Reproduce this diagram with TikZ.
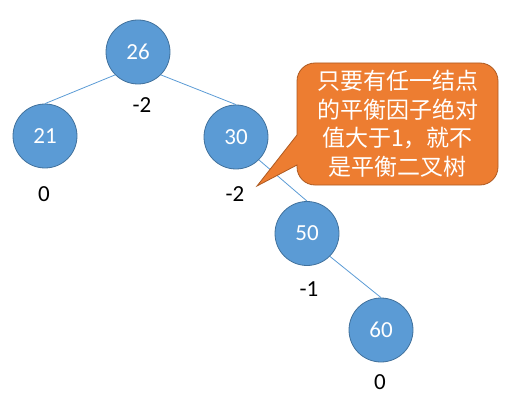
\documentclass[tikz,border=0pt]{standalone}
\usepackage{fontspec}
\setmainfont{Carlito}
\newfontfamily\cjk{Noto Sans CJK SC}
\usepackage{tikz}
\usetikzlibrary{positioning, calc}
\definecolor{nodeblue}{RGB}{91,155,213}
\definecolor{nodeedge}{RGB}{65,113,156}
\definecolor{calloutorange}{RGB}{237,125,49}
\definecolor{calloutedge}{RGB}{174,90,33}

\begin{document}
\begin{tikzpicture}[
  x=1pt, y=1pt,
  tnode/.style={circle, draw=nodeedge, fill=nodeblue, line width=0.8pt,
    minimum size=64pt, inner sep=0pt, text=white,
    font=\fontsize{23}{27}\selectfont},
  bal/.style={font=\fontsize{23}{27}\selectfont, text=black},
  link/.style={draw=nodeblue, line width=0.8pt},
  callout/.style={fill=calloutorange, draw=calloutedge, line width=0.8pt}
]
  \useasboundingbox (0,0) rectangle (514,405);

  % tree nodes
  \node[tnode] (n26) at (138,353) {26};
  \node[tnode] (n21) at (45,269)  {21};
  \node[tnode] (n30) at (236,268) {30};
  \node[tnode] (n50) at (307,171.5) {50};
  \node[tnode] (n60) at (381,75)  {60};

  \draw[link] (n26.south west) -- (n21.north);
  \draw[link] (n26.south east) -- (n30.north);
  \draw[link] (n30.south east) -- (n50.north);
  \draw[link] (n50.south east) -- (n60.north);

  % balance factors
  \node[bal] (b26) at (142,300) {-2};
  \node[bal] (b21) at (44,211)  {0};
  \node[bal] (b30) at (235,211) {-2};
  \node[bal] (b50) at (309,116) {-1};
  \node[bal] (b60) at (380,23)  {0};

  % callout
  \draw[callout] (297,270) -- (297,324)
    arc[start angle=180, end angle=90, radius=18] -- (480,342)
    arc[start angle=90, end angle=0, radius=18] -- (498,238)
    arc[start angle=0, end angle=-90, radius=18] -- (315,220)
    arc[start angle=270, end angle=180, radius=18] -- (297,240)
    -- (257,219) -- cycle;
  \node[text=white, align=center, font=\cjk\fontsize{23}{28.5}\selectfont]
    (note) at (397.5,281)
    {只要有任一结点\\的平衡因子绝对\\值大于1，就不\\是平衡二叉树};
\end{tikzpicture}
\end{document}
